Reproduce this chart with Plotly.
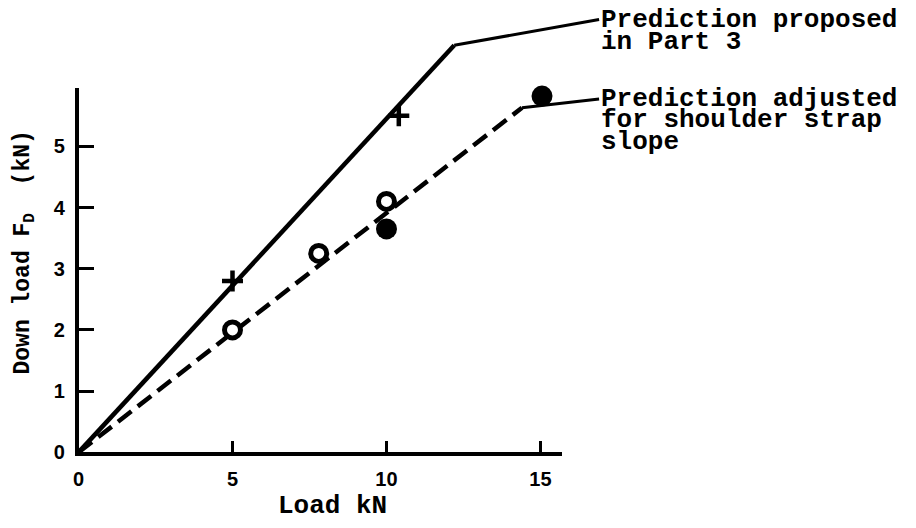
import plotly.graph_objects as go

# ---- data ----
proposed_x = [0, 12.2]
proposed_y = [0, 6.65]
adjusted_x = [0, 14.4]
adjusted_y = [0, 5.63]
plus_x = [5, 10.4]
plus_y = [2.8, 5.5]
open_x = [5, 7.8, 10]
open_y = [2.0, 3.25, 4.1]
filled_x = [10, 15.05]
filled_y = [3.65, 5.82]
x_ticks = [0, 5, 10, 15]
y_ticks = [0, 1, 2, 3, 4, 5]
label_proposed = ["Prediction proposed", "in Part 3"]
label_adjusted = ["Prediction adjusted", "for shoulder strap", "slope"]

W, H = 916, 528
# frame (pixels)
L, R, T, B = 73, 560, 90, 462
xmax, ymax = 15.71, 5.95
sx = (R - L) / xmax
sy = (B - T) / ymax

MONO = "Liberation Mono, Courier New, monospace"
SANS = "Liberation Sans, Arial, sans-serif"

fig = go.Figure()

# dashed prediction on the framed axes (drawn first, under markers)
fig.add_trace(go.Scatter(x=adjusted_x, y=adjusted_y, mode="lines", xaxis="x", yaxis="y",
                         line=dict(color="black", width=4.5, dash="17px,8px"),
                         showlegend=False, hoverinfo="skip"))

common = dict(xaxis="x2", yaxis="y2", showlegend=False, cliponaxis=False, hoverinfo="skip")
fig.add_trace(go.Scatter(x=proposed_x, y=proposed_y, mode="lines",
                         line=dict(color="black", width=4.5), **common))
fig.add_trace(go.Scatter(x=plus_x, y=plus_y, mode="markers",
                         marker=dict(symbol="cross-thin", size=15, line=dict(color="black", width=4.5)), **common))
fig.add_trace(go.Scatter(x=open_x, y=open_y, mode="markers",
                         marker=dict(symbol="circle", size=16, color="white", line=dict(color="black", width=5)), **common))
fig.add_trace(go.Scatter(x=filled_x, y=filled_y, mode="markers",
                         marker=dict(symbol="circle", size=21, color="black", line=dict(width=0)), **common))

# leader lines (x2/y2 span the whole page with the same scale as the frame)
def px_to_x2(px):
    return (px - L) / sx

def py_to_y2(py):
    return (B - py) / sy

shapes = [
    dict(type="line", xref="x2", yref="y2",
         x0=proposed_x[-1], y0=proposed_y[-1], x1=px_to_x2(597), y1=py_to_y2(20),
         line=dict(color="black", width=3)),
    dict(type="line", xref="x2", yref="y2",
         x0=adjusted_x[-1], y0=adjusted_y[-1], x1=px_to_x2(597), y1=py_to_y2(101),
         line=dict(color="black", width=3)),
]

ann = []
ys1 = [20, 43]
for t, yy in zip(label_proposed, ys1):
    ann.append(dict(xref="paper", yref="paper", x=597 / W, y=1 - yy / H,
                    xanchor="left", yanchor="middle", showarrow=False, text=t,
                    font=dict(family=MONO, size=26, color="black", weight="bold")))
ys2 = [101, 123, 145]
for t, yy in zip(label_adjusted, ys2):
    ann.append(dict(xref="paper", yref="paper", x=597 / W, y=1 - yy / H,
                    xanchor="left", yanchor="middle", showarrow=False, text=t,
                    font=dict(family=MONO, size=26, color="black", weight="bold")))
# axis titles
ann.append(dict(xref="paper", yref="paper", x=329 / W, y=1 - 517 / H,
                xanchor="center", yanchor="middle", showarrow=False, text="Load kN",
                font=dict(family=MONO, size=26, color="black", weight="bold")))
ann.append(dict(xref="paper", yref="paper", x=19 / W, y=1 - 258 / H,
                xanchor="center", yanchor="middle", showarrow=False, textangle=-90,
                text="Down load F<sub>D</sub>  (kN)",
                font=dict(family=MONO, size=23, color="black", weight="bold")))

fig.update_layout(
    width=W, height=H,
    margin=dict(l=0, r=0, t=0, b=0),
    paper_bgcolor="white", plot_bgcolor="rgba(0,0,0,0)",
    showlegend=False,
    annotations=ann,
    shapes=shapes,
    xaxis=dict(domain=[L / W, R / W], range=[0, xmax], anchor="y",
               showline=True, linecolor="black", linewidth=3.5,
               ticks="inside", ticklen=12, tickwidth=3, tickcolor="black",
               tickvals=x_ticks, ticktext=[str(v) for v in x_ticks],
               ticklabelstandoff=6,
               tickfont=dict(family=SANS, size=20, color="black", weight="bold"),
               showgrid=False, zeroline=False, fixedrange=True),
    yaxis=dict(domain=[1 - B / H, 1 - T / H], range=[0, ymax], anchor="x",
               showline=True, linecolor="black", linewidth=3.5,
               ticks="inside", ticklen=16, tickwidth=3, tickcolor="black",
               tickvals=y_ticks, ticktext=[str(v) for v in y_ticks],
               ticklabelstandoff=6,
               tickfont=dict(family=SANS, size=20, color="black", weight="bold"),
               showgrid=False, zeroline=False, fixedrange=True),
    xaxis2=dict(domain=[0, 1], range=[-L / sx, (W - L) / sx], anchor="y2", visible=False,
                showgrid=False, zeroline=False, fixedrange=True),
    yaxis2=dict(domain=[0, 1], range=[-(H - B) / sy, B / sy], anchor="x2", visible=False,
                showgrid=False, zeroline=False, fixedrange=True),
)

fig.write_html("out.html")
